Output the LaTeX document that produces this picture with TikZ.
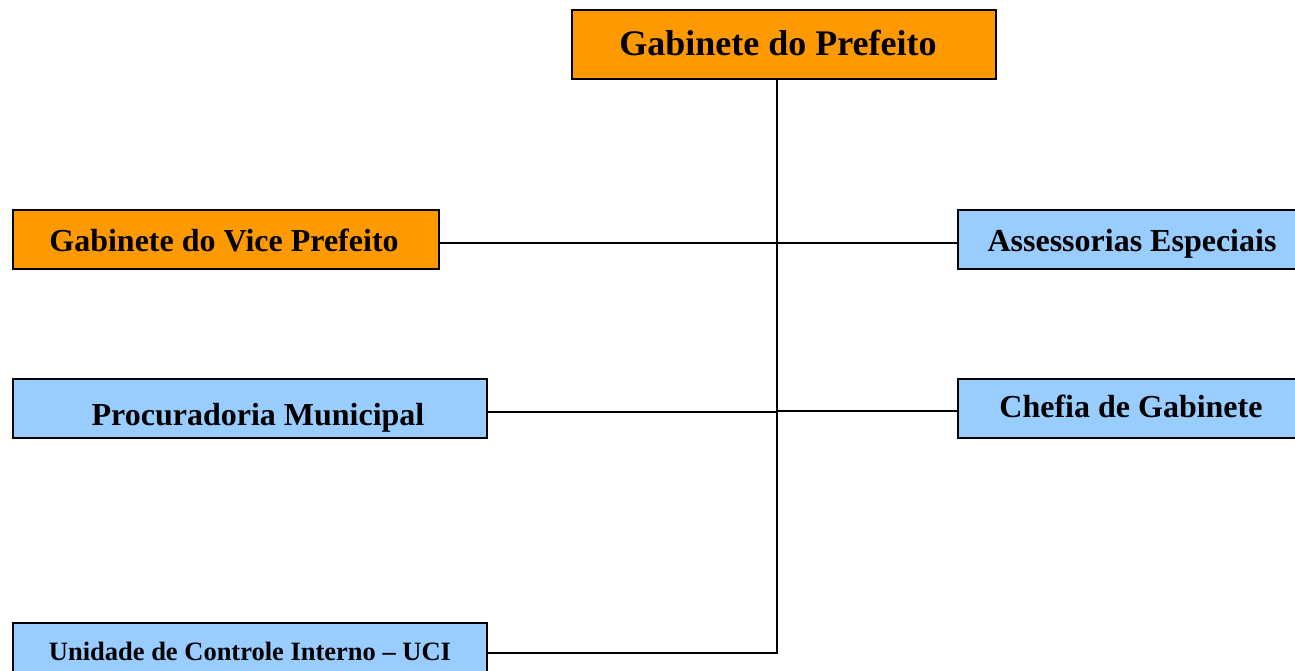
\documentclass[tikz,border=0pt]{standalone}
\usepackage{fontspec}
\setmainfont{Liberation Serif}
\definecolor{orgfill}{HTML}{FF9900}
\definecolor{bluefill}{HTML}{99CCFF}
\begin{document}
\begin{tikzpicture}[x=1pt,y=-1pt,
  box/.style={draw=black,line width=1.8pt,rectangle,inner sep=0pt},
  obox/.style={box,fill=orgfill},
  bbox/.style={box,fill=bluefill},
  lbl/.style={anchor=base,inner sep=0pt,font=\bfseries\fontsize{32}{36}\selectfont},
  conn/.style={draw=black,line width=2pt}]
\useasboundingbox (0,0) rectangle (1295,670);
% boxes
\node[obox,minimum width=424pt,minimum height=69pt] (top) at (784,44.5) {};
\node[obox,minimum width=426pt,minimum height=59pt] (vice) at (226,239.5) {};
\node[bbox,minimum width=348pt,minimum height=59pt] (assess) at (1132,239.5) {};
\node[bbox,minimum width=474pt,minimum height=59pt] (proc) at (250,408.5) {};
\node[bbox,minimum width=348pt,minimum height=59pt] (chefia) at (1132,408.5) {};
\node[bbox,minimum width=474pt,minimum height=59pt] (uci) at (250,652.5) {};
% labels
\node[lbl,font=\bfseries\fontsize{36}{40}\selectfont] (ttop) at (778,55) {Gabinete do Prefeito};
\node[lbl] (tvice) at (224,251.5) {Gabinete do Vice Prefeito};
\node[lbl] (tassess) at (1132,251.5) {Assessorias Especiais};
\node[lbl] (tproc) at (258,425) {Procuradoria Municipal};
\node[lbl] (tchefia) at (1131,417) {Chefia de Gabinete};
\node[lbl,font=\bfseries\fontsize{26.5}{30}\selectfont] (tuci) at (250,660) {Unidade de Controle Interno – UCI};
% connectors
\coordinate (trunktop) at ([xshift=-7pt]top.south);
\coordinate (trunkbot) at (trunktop |- uci.east);
\coordinate (vicep) at ([yshift=-3.5pt]vice.east);
\coordinate (assessp) at ([yshift=-3.5pt]assess.west);
\coordinate (procp) at ([yshift=-3.5pt]proc.east);
\coordinate (chefp) at ([yshift=-2.5pt]chefia.west);
\draw[conn] (trunktop) -- (trunkbot) -- (uci.east);
\draw[conn] (vicep) -- (assessp);
\draw[conn] (procp) -- (trunktop |- procp);
\draw[conn] (trunktop |- chefp) -- (chefp);
\end{tikzpicture}
\end{document}
